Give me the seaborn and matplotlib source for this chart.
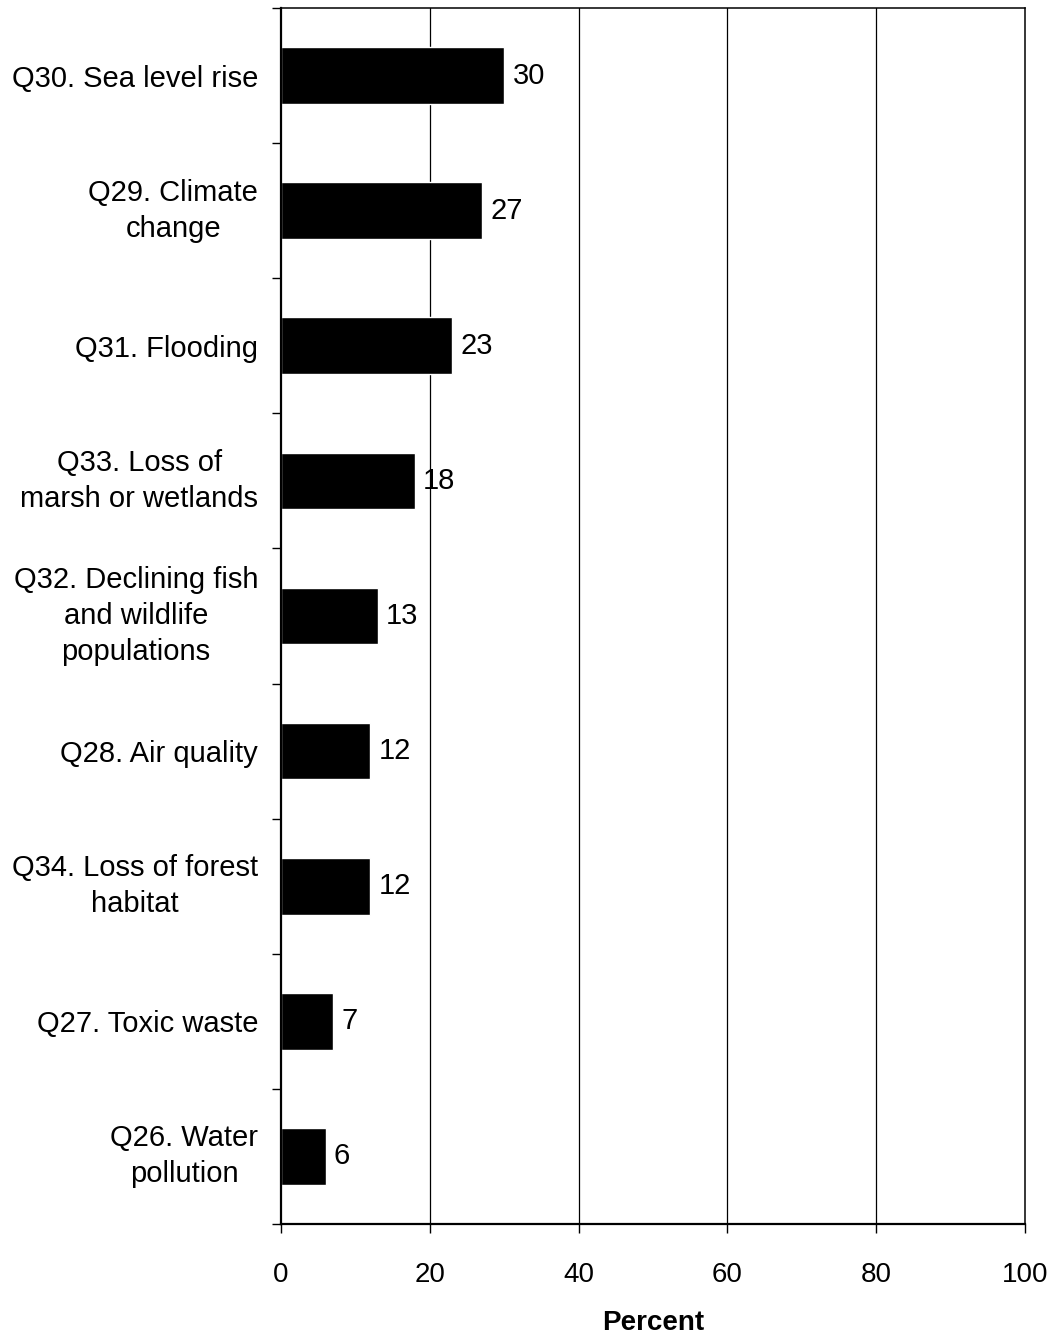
import matplotlib
matplotlib.use("Agg")
import matplotlib.pyplot as plt
import seaborn as sns
import pandas as pd
import numpy as np

categories = [
    "Q30. Sea level rise",
    "Q29. Climate\nchange",
    "Q31. Flooding",
    "Q33. Loss of\nmarsh or wetlands",
    "Q32. Declining fish\nand wildlife\npopulations",
    "Q28. Air quality",
    "Q34. Loss of forest\nhabitat",
    "Q27. Toxic waste",
    "Q26. Water\npollution",
]
values = [30, 27, 23, 18, 13, 12, 12, 7, 6]
x_ticks = [0, 20, 40, 60, 80, 100]

sns.set_theme(style="white")
plt.rcParams["font.family"] = ["Liberation Sans", "DejaVu Sans"]
plt.rcParams["text.color"] = "black"
plt.rcParams["axes.labelcolor"] = "black"
plt.rcParams["xtick.color"] = "black"
plt.rcParams["ytick.color"] = "black"

df = pd.DataFrame({"cat": categories, "val": values})

fig = plt.figure(figsize=(10.55, 13.34), dpi=100)
ax = fig.add_axes([281/1055, 1-1224/1334, (1025-281)/1055, (1224-8)/1334])

sns.barplot(data=df, x="val", y="cat", orient="h", color="black",
            width=0.42, saturation=1, ax=ax, zorder=3)

for p, v in zip(ax.patches, values):
    ax.text(p.get_width() + 1.1, p.get_y() + p.get_height()/2, f"{v}",
            va="center", ha="left", fontsize=21, color="black")

ax.set_xlim(0, 100)
ax.set_ylim(len(categories) - 0.5, -0.5)
ax.set_xticks(x_ticks)
ax.set_xticklabels([str(t) for t in x_ticks], fontsize=20, color="black")
ax.tick_params(axis="x", direction="out", length=6.5, width=1, color="black",
               pad=20.5, bottom=True)

ax.set_yticks(range(len(categories)))
ax.set_yticklabels(categories, fontsize=21, multialignment="center",
                   linespacing=1.36, color="black")
for lbl in ax.get_yticklabels():
    if "\n" in lbl.get_text():
        lbl.set_va("center")
ax.tick_params(axis="y", which="major", length=0, pad=16.5)
ax.set_yticks(np.arange(-0.5, len(categories), 1.0), minor=True)
ax.tick_params(axis="y", which="minor", direction="out", length=6.5, width=1,
               color="black", left=True)

ax.grid(False)
for t in [20, 40, 60, 80]:
    ax.axvline(t, color="black", lw=0.9, zorder=1)

for s in ["left", "bottom"]:
    ax.spines[s].set_linewidth(1.6)
    ax.spines[s].set_color("black")
for s in ["top", "right"]:
    ax.spines[s].set_linewidth(1.1)
    ax.spines[s].set_color("black")
    ax.spines[s].set_visible(True)
for s in ax.spines.values():
    s.set_zorder(4)

ax.set_ylabel("")
ax.set_xlabel("Percent", fontsize=20, fontweight="bold", labelpad=16,
              color="black")

fig.savefig("out.png", dpi=100, facecolor="white")
